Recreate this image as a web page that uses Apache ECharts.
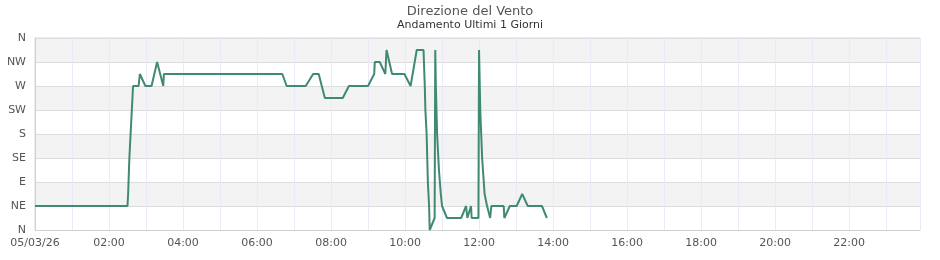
<!DOCTYPE html>
<html>
<head>
<meta charset="utf-8">
<script src="https://cdn.jsdelivr.net/npm/echarts@6/dist/echarts.min.js"></script>
<style>html,body{margin:0;padding:0;background:#fff}#c{width:940px;height:260px}</style>
</head>
<body>
<div id="c"></div>
<script>
const titleText = 'Direzione del Vento';
const subtitleText = 'Andamento Ultimi 1 Giorni';
const dateLabel = '05/03/26';
const directionLabels = ['N', 'NE', 'E', 'SE', 'S', 'SW', 'W', 'NW', 'N'];
const times = ['00:00','02:30','02:31','02:33','02:35','02:37','02:39','02:48','02:50','02:59','03:09','03:18','03:28','03:29',
  '06:41','06:48','07:19','07:31','07:40','07:50','08:19','08:29','09:00','09:10','09:11','09:19','09:28','09:30','09:39','09:59',
  '10:09','10:19','10:30','10:32','10:33','10:35','10:37','10:39','10:40','10:48','10:49','10:50','10:52','10:55','10:58','11:00','11:08','11:31',
  '11:39','11:41','11:47','11:48','11:59','12:00','12:02','12:05','12:09','12:13','12:18','12:20','12:40','12:41','12:50','13:01',
  '13:10','13:19','13:42','13:50'];
const directions = [45,45,67.5,135,180,225,270,270,292.5,270,270,315,270,292.5,
  292.5,270,270,292.5,292.5,247.5,247.5,270,270,292.5,315,315,292.5,337.5,292.5,292.5,
  270,337.5,337.5,270,225,180,90,45,0,22.5,337.5,270,180,112.5,67.5,45,22.5,22.5,
  45,22.5,45,22.5,22.5,337.5,225,135,67.5,45,22.5,45,45,22.5,45,45,
  67.5,45,45,22.5];

function toMin(t){const p=t.split(':');return (+p[0])*60+(+p[1]);}
const seriesData = times.map((t,i)=>[toMin(t), directions[i]]);

const font = 'DejaVu Sans, Verdana, sans-serif';
const chart = echarts.init(document.getElementById('c'), null, {renderer:'canvas'});
chart.setOption({
  animation: false,
  title: {
    text: titleText, subtext: subtitleText, left: 'center', top: 0, itemGap: 2,
    textStyle: {fontSize: 13, fontWeight: 'normal', color: '#555', fontFamily: font},
    subtextStyle: {fontSize: 11, color: '#333', fontFamily: font}
  },
  grid: {left: 35, right: 20, top: 38, bottom: 30, show: true, borderColor: '#d8d8d8', borderWidth: 1, backgroundColor: 'transparent'},
  xAxis: {
    type: 'value', min: 0, max: 1435, interval: 60,
    axisLine: {show: true, lineStyle: {color: '#d0d0d0'}},
    axisTick: {show: false},
    splitLine: {show: true, lineStyle: {color: '#ebe8fa', width: 1}},
    axisLabel: {
      color: '#555', fontSize: 11, fontFamily: font, margin: 8, showMaxLabel: false,
      formatter: function(v){
        if (v === 0) return dateLabel;
        if (v % 120 === 0 && v < 1440) { const h = v/60; return (h<10?'0':'')+h+':00'; }
        return '';
      }
    }
  },
  yAxis: {
    type: 'value', min: 0, max: 360, interval: 45,
    axisLine: {show: true, lineStyle: {color: '#d0d0d0'}},
    axisTick: {show: false},
    splitLine: {show: true, lineStyle: {color: '#dcdcdc', width: 1}},
    splitArea: {show: true, areaStyle: {color: ['#ffffff', '#f3f3f3']}},
    axisLabel: {
      color: '#555', fontSize: 11, fontFamily: font, margin: 9,
      formatter: function(v){ return directionLabels[Math.round(v/45)]; }
    }
  },
  series: [{
    type: 'line', data: seriesData, showSymbol: false, symbol: 'none',
    lineStyle: {color: '#418a72', width: 2}, itemStyle: {color: '#418a72'}
  }]
});
</script>
</body>
</html>
